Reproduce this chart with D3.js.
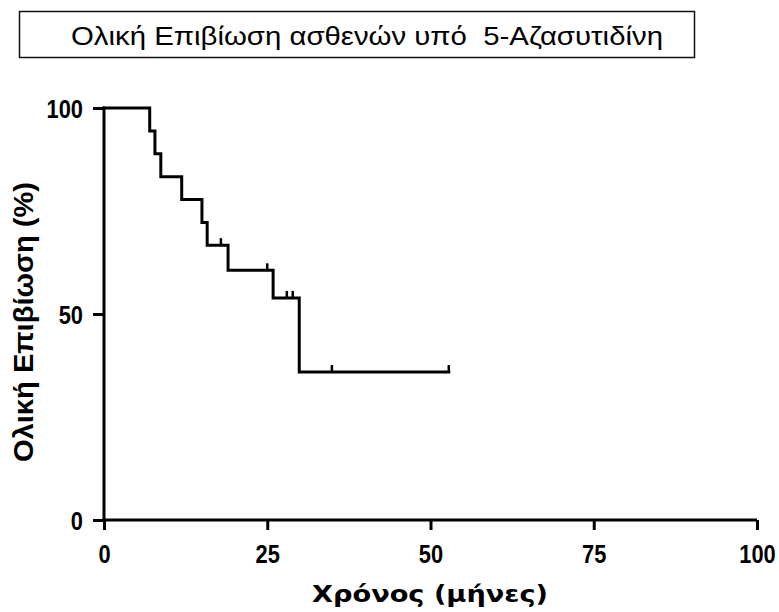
<!DOCTYPE html>
<html><head><meta charset="utf-8">
<script src="https://cdn.jsdelivr.net/npm/d3@7"></script>
<style>body{margin:0;background:#fff} text{white-space:pre}</style>
</head><body>
<svg id="c" width="779" height="612"></svg>
<script>
const titleText = "Ολική Επιβίωση ασθενών υπό  5-Αζασυτιδίνη";
const xLabel = "Χρόνος (μήνες)";
const yLabel = "Ολική Επιβίωση (%)";
const xTicks = [0, 25, 50, 75, 100];
const yTicks = [0, 50, 100];
const stepTimes = [0, 7.0, 7.8, 8.7, 11.9, 15.0, 15.8, 19.0, 25.9, 29.9];
const survival = [100, 94.4, 88.9, 83.3, 77.8, 72.2, 66.7, 60.6, 53.9, 35.9];
const censorTimes = [17.9, 25.0, 28.0, 28.9, 34.9, 52.8];

const svg = d3.select("#c");
const x = d3.scaleLinear().domain([0, 100]).range([104, 757]);
const y = d3.scaleLinear().domain([0, 100]).range([520, 108]);

function survAt(t){ let s = survival[0]; for (let i=0;i<stepTimes.length;i++){ if (stepTimes[i] <= t) s = survival[i]; } return s; }

// title box
svg.append("rect").attr("x",19.5).attr("y",11.5).attr("width",675).attr("height",46)
  .attr("fill","#fff").attr("stroke","#111").attr("stroke-width",1.5);
svg.append("text").attr("x",71).attr("y",45)
  .attr("font-family","Liberation Sans, Arial, sans-serif").attr("font-size",25.5)
  .attr("textLength",592).attr("lengthAdjust","spacingAndGlyphs")
  .attr("fill","#000").text(titleText);

// axes
const xAxis = d3.axisBottom(x).tickValues(xTicks).tickSize(10).tickSizeOuter(0).tickFormat(d3.format("d"));
const yAxis = d3.axisLeft(y).tickValues(yTicks).tickSize(11).tickSizeOuter(0).tickFormat(d3.format("d"));
const gx = svg.append("g").attr("transform","translate(0,520)").call(xAxis);
const gy = svg.append("g").attr("transform","translate(104,0)").call(yAxis);
[gx, gy].forEach(g => {
  g.select(".domain").attr("stroke","#000").attr("stroke-width",3);
  g.selectAll(".tick line").attr("stroke","#000").attr("stroke-width",3);
  g.selectAll(".tick text").attr("fill","#000")
    .attr("font-family","Liberation Sans, Arial, sans-serif")
    .attr("font-weight","bold").attr("font-size",26)
    .attr("transform","scale(0.84,1)");
});
gx.select(".domain").attr("d","M102.5,0H757");
gy.select(".domain").attr("d","M0,106.5V521.5");
gx.selectAll(".tick text").attr("dy","0").attr("y",43);
gy.selectAll(".tick text").attr("x",-21/0.84).attr("dy","0.36em");

// curve
const pts = stepTimes.map((t,i)=>[t, survival[i]]);
const last = censorTimes[censorTimes.length-1];
pts.push([last, survAt(last)]);
const line = d3.line().x(d=>x(d[0])).y(d=>y(d[1])).curve(d3.curveStepAfter);
svg.append("path").datum(pts).attr("d",line).attr("fill","none")
  .attr("stroke","#000").attr("stroke-width",3).attr("stroke-linejoin","miter").attr("stroke-linecap","square");

// censor marks
svg.selectAll(".cen").data(censorTimes).join("line")
  .attr("x1",d=>x(d)).attr("x2",d=>x(d))
  .attr("y1",d=>y(survAt(d))).attr("y2",d=>y(survAt(d))-7)
  .attr("stroke","#000").attr("stroke-width",2.5);

// axis labels
svg.append("text").attr("x",312).attr("y",602)
  .attr("font-family","DejaVu Sans, Verdana, sans-serif").attr("font-weight","bold")
  .attr("font-size",23).attr("textLength",236).attr("lengthAdjust","spacingAndGlyphs")
  .attr("fill","#000").text(xLabel);
svg.append("text").attr("transform","translate(33,462) rotate(-90)")
  .attr("font-family","Liberation Sans, Arial, sans-serif").attr("font-weight","bold")
  .attr("font-size",27).attr("textLength",280).attr("lengthAdjust","spacingAndGlyphs")
  .attr("fill","#000").text(yLabel);
</script>
</body></html>
